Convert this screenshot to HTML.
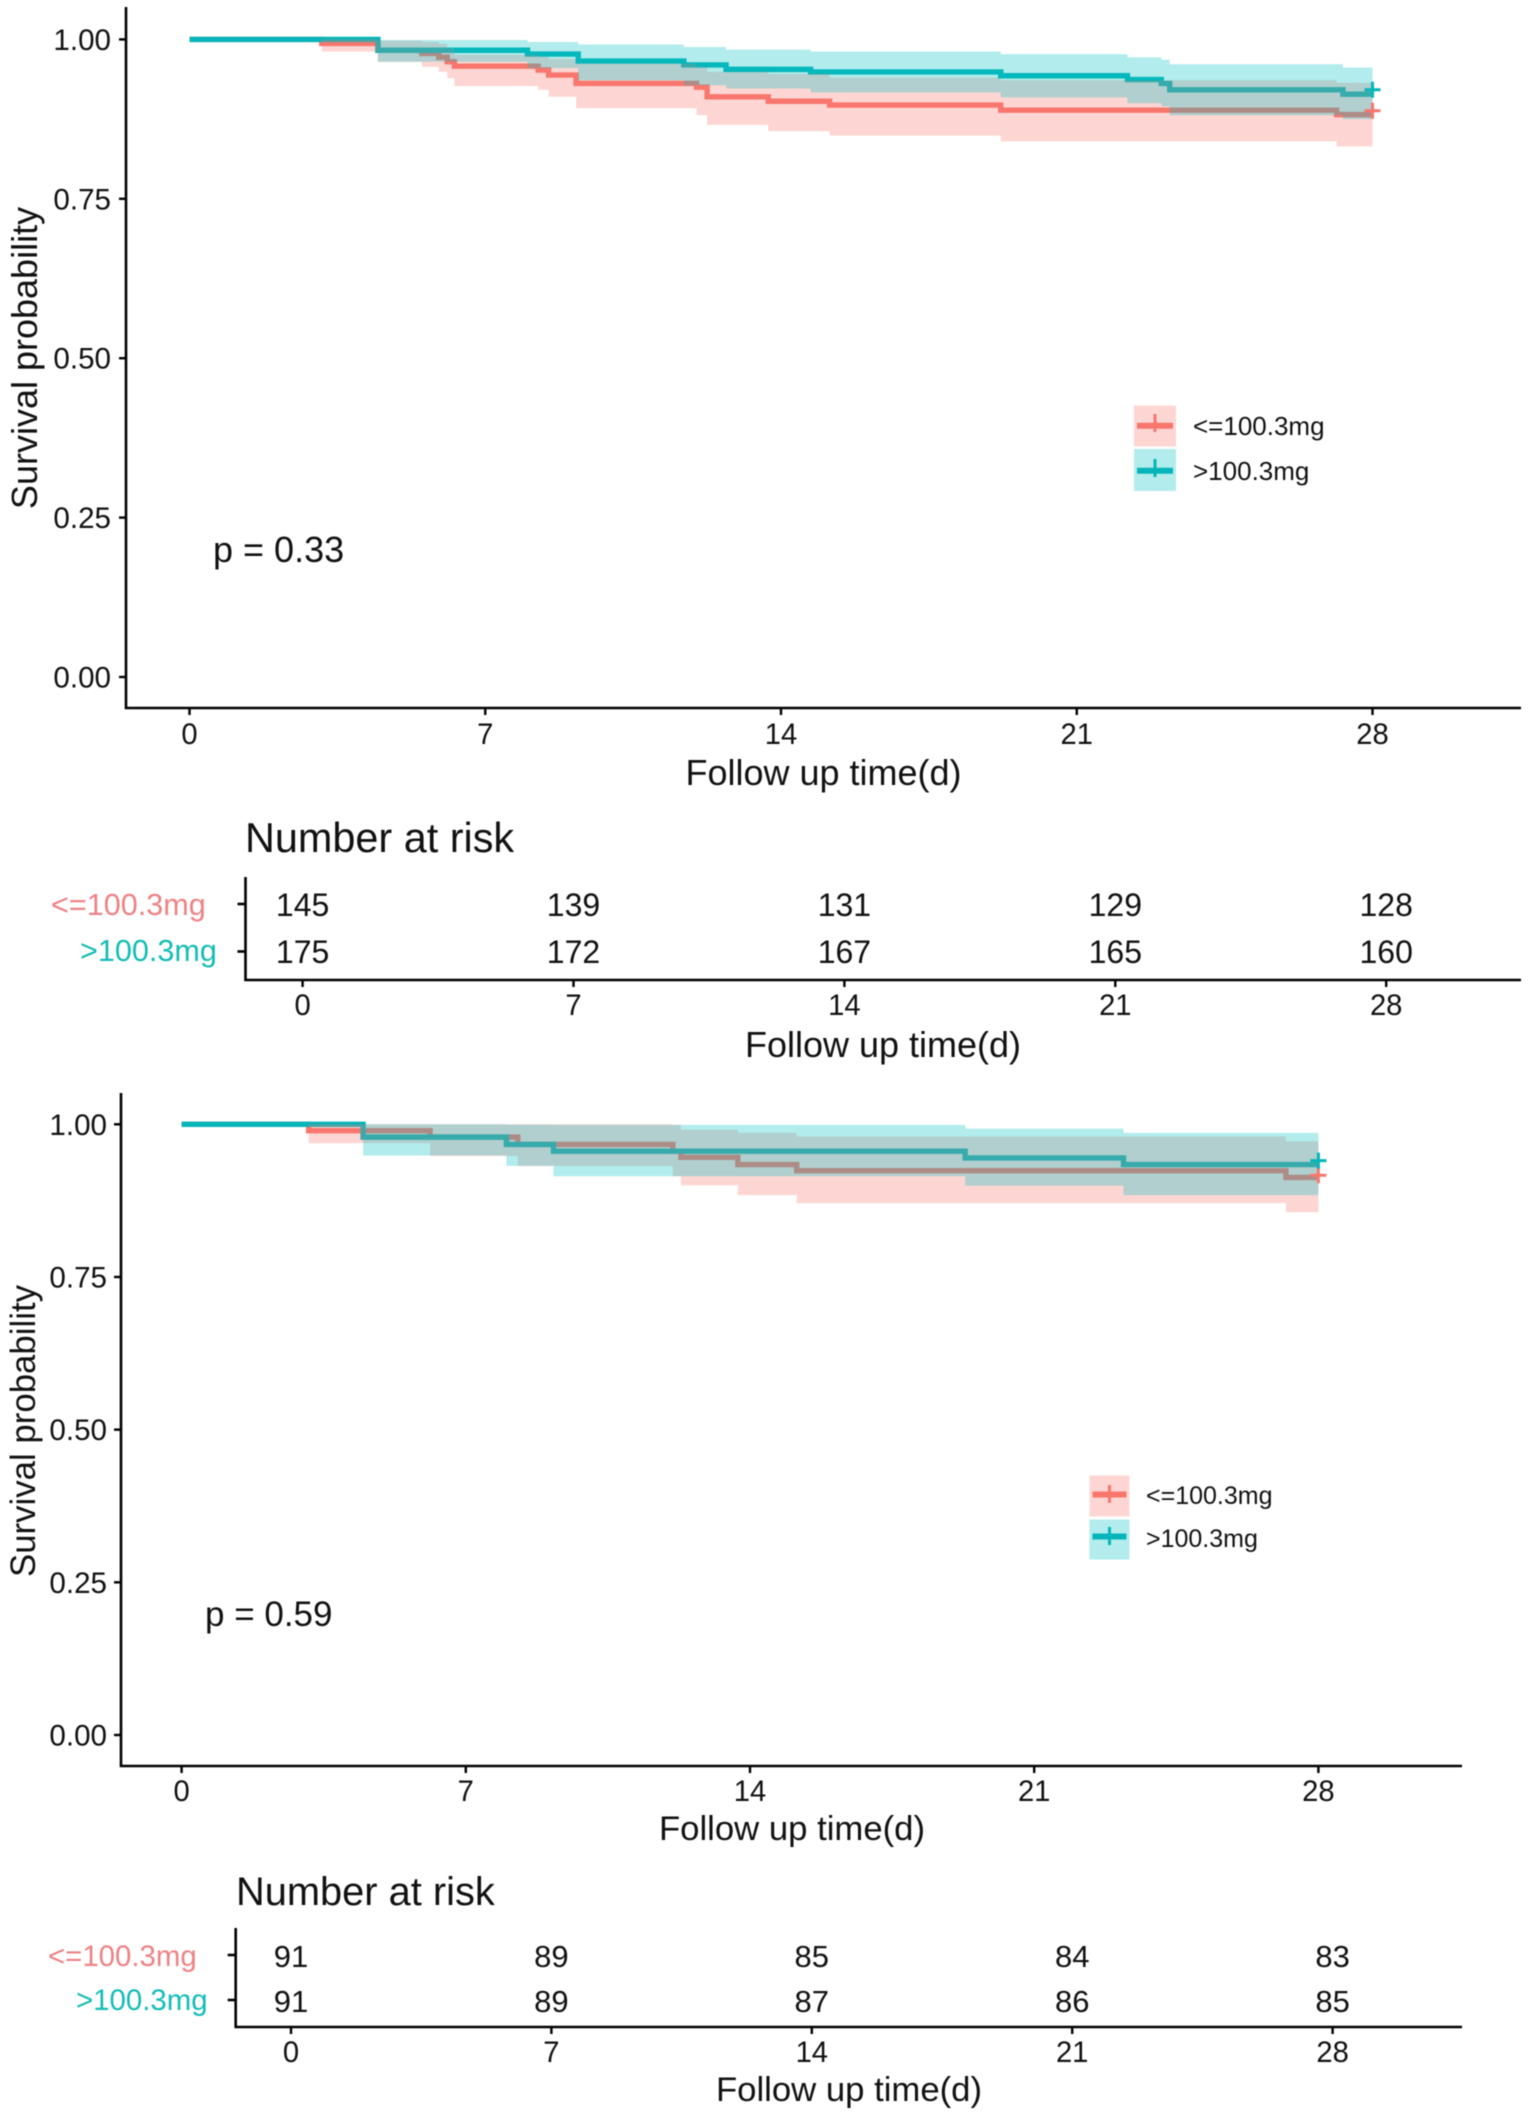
<!DOCTYPE html>
<html lang="en">
<head>
<meta charset="utf-8">
<title>Kaplan-Meier survival curves with numbers at risk</title>
<style>
  html, body { margin: 0; padding: 0; background: #fff; }
  svg { display: block; filter: blur(0.45px); }
  text { font-family: "Liberation Sans", Arial, sans-serif; fill: #111; }
</style>
</head>
<body>
<svg id="figure" xmlns="http://www.w3.org/2000/svg" width="1535" height="2122" viewBox="0 0 1535 2122">
  <rect x="0" y="0" width="1535" height="2122" fill="#ffffff"/>

  <!-- Panel 1 static labels -->
  <text transform="translate(37,358) rotate(-90)" text-anchor="middle" font-size="36">Survival probability</text>
  <text x="823.5" y="785" text-anchor="middle" font-size="36">Follow up time(d)</text>
  <text x="213" y="562" font-size="36">p = 0.33</text>
  <text x="245" y="852" font-size="41.4">Number at risk</text>
  <text x="883" y="1057" text-anchor="middle" font-size="36">Follow up time(d)</text>
  <text x="51" y="915" font-size="30.6" style="fill:#EE8285">&lt;=100.3mg</text>
  <text x="80" y="961" font-size="30.6" style="fill:#14BDB6">&gt;100.3mg</text>

  <g>
    <rect x="1134" y="405.5" width="42" height="41" fill="#F8766D" fill-opacity="0.3"/>
    <rect x="1134" y="449" width="42" height="42" fill="#00BFC4" fill-opacity="0.3"/>
    <path d="M1137 425.7H1173" stroke="#F8766D" stroke-width="6" fill="none"/>
    <path d="M1155 414V432" stroke="#F8766D" stroke-width="3" fill="none"/>
    <path d="M1137 470.7H1173" stroke="#06B5B9" stroke-width="6" fill="none"/>
    <path d="M1155 459V477" stroke="#06B5B9" stroke-width="3" fill="none"/>
    <text x="1193" y="435" font-size="26">&lt;=100.3mg</text>
    <text x="1193" y="480" font-size="26">&gt;100.3mg</text>
  </g>

  <!-- Panel 2 static labels -->
  <text transform="translate(35,1431) rotate(-90)" text-anchor="middle" font-size="34.8">Survival probability</text>
  <text x="792" y="1840" text-anchor="middle" font-size="34.7">Follow up time(d)</text>
  <text x="205" y="1626" font-size="35">p = 0.59</text>
  <text x="236" y="1905" font-size="39.8">Number at risk</text>
  <text x="849" y="2101" text-anchor="middle" font-size="34.7">Follow up time(d)</text>
  <text x="48" y="1966" font-size="29.4" style="fill:#EE8285">&lt;=100.3mg</text>
  <text x="76" y="2010" font-size="29.4" style="fill:#14BDB6">&gt;100.3mg</text>

  <g>
    <rect x="1092" y="1478" width="40" height="41" fill="#F8766D" fill-opacity="0.3" transform="translate(-2.5,-2.5)"/>
    <rect x="1092" y="1522" width="40" height="40" fill="#00BFC4" fill-opacity="0.3" transform="translate(-2.5,-2.5)"/>
    <path d="M1092.5 1494.5H1126.5" stroke="#F8766D" stroke-width="6" fill="none"/>
    <path d="M1109.5 1485V1503" stroke="#F8766D" stroke-width="3" fill="none"/>
    <path d="M1092.5 1536.5H1126.5" stroke="#06B5B9" stroke-width="6" fill="none"/>
    <path d="M1109.5 1527V1545" stroke="#06B5B9" stroke-width="3" fill="none"/>
    <text x="1146" y="1504" font-size="25">&lt;=100.3mg</text>
    <text x="1146" y="1547" font-size="25">&gt;100.3mg</text>
  </g>
</svg>

<script>
// ---- Shared axis data ----
const xTickDays = [0, 7, 14, 21, 28];
const xTickLabels = ['0', '7', '14', '21', '28'];
const yTickValues = [0, 0.25, 0.5, 0.75, 1];
const yTickLabels = ['0.00', '0.25', '0.50', '0.75', '1.00'];
const riskGroups = ['<=100.3mg', '>100.3mg'];

// ---- Top panel, <=100.3mg ----
const topLowTime  = [0, 3.13, 4.46, 5.5, 5.9, 6.1, 6.27, 8.25, 8.5, 9.15, 12.0, 12.25, 13.7, 15.15, 19.2, 27.15];
const topLowSurv  = [1, 0.9937, 0.983, 0.978, 0.972, 0.965, 0.958, 0.952, 0.944, 0.931, 0.925, 0.910, 0.903, 0.897, 0.889, 0.882];
const topLowLower = [1, 0.981, 0.965, 0.957, 0.949, 0.939, 0.927, 0.921, 0.910, 0.892, 0.881, 0.866, 0.856, 0.849, 0.840, 0.832];
const topLowUpper = [1, 1, 0.998, 0.996, 0.993, 0.986, 0.976, 0.973, 0.969, 0.962, 0.957, 0.949, 0.946, 0.940, 0.936, 0.932];
const topLowCensorTime = [28];
const topLowCensorSurv = [0.888];

// ---- Top panel, >100.3mg ----
const topHighTime  = [0, 4.46, 8.0, 9.2, 11.7, 12.7, 14.7, 19.2, 22.2, 23.0, 23.2, 27.3];
const topHighSurv  = [1, 0.983, 0.977, 0.966, 0.960, 0.953, 0.949, 0.943, 0.937, 0.931, 0.921, 0.914];
const topHighLower = [1, 0.965, 0.955, 0.936, 0.928, 0.923, 0.917, 0.909, 0.900, 0.895, 0.881, 0.875];
const topHighUpper = [1, 0.999, 0.996, 0.992, 0.988, 0.984, 0.981, 0.977, 0.972, 0.968, 0.961, 0.956];
const topHighCensorTime = [28];
const topHighCensorSurv = [0.921];

// ---- Bottom panel, <=100.3mg ----
const bottomLowTime  = [0, 3.13, 6.12, 8.28, 12.1, 12.3, 13.7, 15.15, 27.2];
const bottomLowSurv  = [1, 0.9896, 0.979, 0.967, 0.956, 0.946, 0.934, 0.924, 0.913];
const bottomLowLower = [1, 0.969, 0.948, 0.932, 0.915, 0.900, 0.884, 0.871, 0.856];
const bottomLowUpper = [1, 1, 1, 1, 0.999, 0.991, 0.986, 0.980, 0.972];
const bottomLowCensorTime = [28];
const bottomLowCensorSurv = [0.9165];

// ---- Bottom panel, >100.3mg ----
const bottomHighTime  = [0, 4.47, 8.0, 9.16, 19.3, 23.2];
const bottomHighSurv  = [1, 0.979, 0.967, 0.956, 0.945, 0.934];
const bottomHighLower = [1, 0.949, 0.932, 0.915, 0.8996, 0.884];
const bottomHighUpper = [1, 1, 0.9995, 0.999, 0.993, 0.986];
const bottomHighCensorTime = [28];
const bottomHighCensorSurv = [0.9405];

// ---- Numbers at risk ----
const topRiskLow = [145, 139, 131, 129, 128];
const topRiskHigh = [175, 172, 167, 165, 160];
const bottomRiskLow = [91, 89, 85, 84, 83];
const bottomRiskHigh = [91, 89, 87, 86, 85];

const LOW_COLOR = '#F8766D';
const HIGH_COLOR = '#00BFC4';
const HIGH_LINE_COLOR = '#06B5B9';
const NS = 'http://www.w3.org/2000/svg';
const figure = document.getElementById('figure');

function make(tag, attrs, parent, content) {
  const node = document.createElementNS(NS, tag);
  for (const key in attrs) node.setAttribute(key, attrs[key]);
  if (content !== undefined) node.textContent = content;
  parent.appendChild(node);
  return node;
}

// Axis functions
function xScale(layout, day) { return layout.x0 + day * layout.xPerDay; }
function yScale(layout, prob) { return layout.y0 - prob * layout.yHeight; }

function stepLine(layout, times, values, endTime) {
  let d = 'M' + xScale(layout, times[0]) + ' ' + yScale(layout, values[0]);
  for (let i = 1; i < times.length; i++) {
    d += 'H' + xScale(layout, times[i]) + 'V' + yScale(layout, values[i]);
  }
  return d + 'H' + xScale(layout, endTime);
}

function stepBand(layout, times, lower, upper, endTime) {
  let d = stepLine(layout, times, upper, endTime);
  d += 'V' + yScale(layout, lower[lower.length - 1]);
  for (let i = times.length - 1; i >= 1; i--) {
    d += 'H' + xScale(layout, times[i]) + 'V' + yScale(layout, lower[i - 1]);
  }
  return d + 'H' + xScale(layout, times[0]) + 'Z';
}

function drawCensor(layout, group, time, prob, color) {
  const x = xScale(layout, time);
  const y = yScale(layout, prob);
  const d = 'M' + (x - 8) + ' ' + y + 'H' + (x + 8) + 'M' + x + ' ' + (y - 8) + 'V' + (y + 8);
  return make('path', { d: d, stroke: color, 'stroke-width': 3, fill: 'none' }, group);
}

function drawSurvivalPanel(layout, low, high) {
  const root = make('g', {}, figure);
  
  

  // Curves go first: the translucent bands lie over them, which produces the brown/dark overlap tones.
  const lowLine = make('path', { d: stepLine(layout, low.t, low.s, 28), stroke: LOW_COLOR, 'stroke-width': 5.4, fill: 'none' }, root);
  
  

  const highLine = make('path', { d: stepLine(layout, high.t, high.s, 28), stroke: HIGH_LINE_COLOR, 'stroke-width': 5.4, fill: 'none' }, root);
  
  

  const lowBand = make('path', { d: stepBand(layout, low.t, low.lo, low.hi, 28), fill: LOW_COLOR, 'fill-opacity': 0.3 }, root);
  
  

  const highBand = make('path', { d: stepBand(layout, high.t, high.lo, high.hi, 28), fill: HIGH_COLOR, 'fill-opacity': 0.3 }, root);
  
  

  low.ct.forEach(function (t, i) {
    const mark = drawCensor(layout, root, t, low.cs[i], LOW_COLOR);
    
    
  });
  high.ct.forEach(function (t, i) {
    const mark = drawCensor(layout, root, t, high.cs[i], HIGH_LINE_COLOR);
    
    
  });

  const axisD = 'M' + layout.axisX + ' ' + layout.axisTop + 'V' + layout.axisY + 'H' + layout.axisRight;
  const axis = make('path', { d: axisD, stroke: '#000', 'stroke-width': 2.6, fill: 'none' }, root);
  
  

  yTickValues.forEach(function (v, i) {
    const y = yScale(layout, v);
    const tick = make('path', { d: 'M' + (layout.axisX - 7) + ' ' + y + 'H' + layout.axisX, stroke: '#000', 'stroke-width': 2.4 }, root);
    
    
    const label = make('text', { x: layout.yLabelRight, y: y + 10.5, 'text-anchor': 'end', 'font-size': 29.6 }, root, yTickLabels[i]);
    
    
  });

  xTickDays.forEach(function (day, i) {
    const x = xScale(layout, day);
    const tick = make('path', { d: 'M' + x + ' ' + layout.axisY + 'V' + (layout.axisY + 7), stroke: '#000', 'stroke-width': 2.4 }, root);
    
    
    const label = make('text', { x: x, y: layout.xLabelY, 'text-anchor': 'middle', 'font-size': 29.2 }, root, xTickLabels[i]);
    
    
  });
}

function drawRiskTable(layout, lowCounts, highCounts) {
  const root = make('g', {}, figure);
  
  

  const axisD = 'M' + layout.axisX + ' ' + layout.axisTop + 'V' + layout.axisY + 'H' + layout.axisRight;
  const axis = make('path', { d: axisD, stroke: '#000', 'stroke-width': 2.6, fill: 'none' }, root);
  
  

  riskGroups.forEach(function (group, row) {
    const rowY = layout.rowY[row];
    const tick = make('path', { d: 'M' + (layout.axisX - 8) + ' ' + rowY + 'H' + layout.axisX, stroke: '#000', 'stroke-width': 2.6 }, root);
    
    
  });

  xTickDays.forEach(function (day, i) {
    const x = xScale(layout, day);
    const tick = make('path', { d: 'M' + x + ' ' + layout.axisY + 'V' + (layout.axisY + 7), stroke: '#000', 'stroke-width': 2.4 }, root);
    
    
    const label = make('text', { x: x, y: layout.xLabelY, 'text-anchor': 'middle', 'font-size': 29.2 }, root, xTickLabels[i]);
    
    

    const lowCell = make('text', { x: x, y: layout.rowBaseline[0], 'text-anchor': 'middle', 'font-size': layout.cellFont }, root, String(lowCounts[i]));
    
    
    const highCell = make('text', { x: x, y: layout.rowBaseline[1], 'text-anchor': 'middle', 'font-size': layout.cellFont }, root, String(highCounts[i]));
    
    
  });
}

drawSurvivalPanel(
  { name: 'top', x0: 189.5, xPerDay: 42.25, y0: 677, yHeight: 637.6, axisX: 126, axisTop: 7, axisY: 708, axisRight: 1521, yLabelRight: 111, xLabelY: 744 },
  { t: topLowTime, s: topLowSurv, lo: topLowLower, hi: topLowUpper, ct: topLowCensorTime, cs: topLowCensorSurv },
  { t: topHighTime, s: topHighSurv, lo: topHighLower, hi: topHighUpper, ct: topHighCensorTime, cs: topHighCensorSurv }
);
drawRiskTable(
  { name: 'top', x0: 302.6, xPerDay: 38.7, axisX: 245.5, axisTop: 877, axisY: 980, axisRight: 1521, xLabelY: 1015, cellFont: 32, rowY: [904, 951.5], rowBaseline: [916, 963] },
  topRiskLow, topRiskHigh
);
drawSurvivalPanel(
  { name: 'bottom', x0: 181.6, xPerDay: 40.6, y0: 1735, yHeight: 610.7, axisX: 121, axisTop: 1093, axisY: 1766, axisRight: 1462, yLabelRight: 107, xLabelY: 1801 },
  { t: bottomLowTime, s: bottomLowSurv, lo: bottomLowLower, hi: bottomLowUpper, ct: bottomLowCensorTime, cs: bottomLowCensorSurv },
  { t: bottomHighTime, s: bottomHighSurv, lo: bottomHighLower, hi: bottomHighUpper, ct: bottomHighCensorTime, cs: bottomHighCensorSurv }
);
drawRiskTable(
  { name: 'bottom', x0: 291, xPerDay: 37.2, axisX: 235.7, axisTop: 1928, axisY: 2027, axisRight: 1462, xLabelY: 2062, cellFont: 31, rowY: [1955, 2000], rowBaseline: [1967, 2012] },
  bottomRiskLow, bottomRiskHigh
);
</script>
</body>
</html>
